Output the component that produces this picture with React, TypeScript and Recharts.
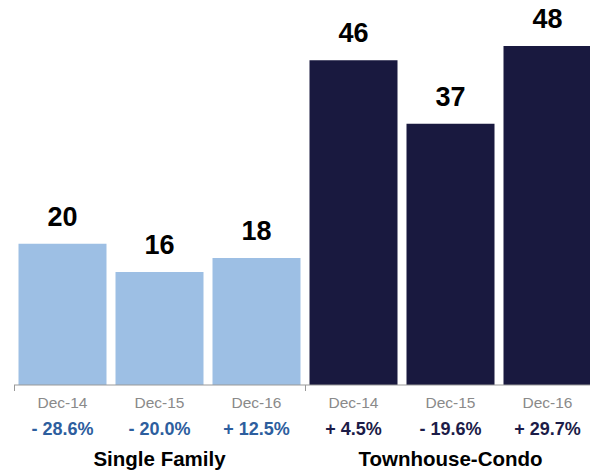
import React from 'react';
import { BarChart, Bar, XAxis, YAxis, Cell, LabelList } from 'recharts';

const categories = ['Dec-14', 'Dec-15', 'Dec-16', 'Dec-14', 'Dec-15', 'Dec-16'];
const singleFamilyValues = [20, 16, 18];
const townhouseValues = [46, 37, 48];
const pctLabels = ['- 28.6%', '- 20.0%', '+ 12.5%', '+ 4.5%', '- 19.6%', '+ 29.7%'];
const groupNames = ['Single Family', 'Townhouse-Condo'];

const values = [...singleFamilyValues, ...townhouseValues];
const data = categories.map((c, i) => ({
  key: `${c}-${i}`,
  label: c,
  value: values[i],
  pct: pctLabels[i],
  group: i < 3 ? 0 : 1,
}));

const FONT = '"Liberation Sans", Arial, Helvetica, sans-serif';
const barColors = ['#9dbfe4', '#19193f'];
const pctColors = ['#2d5e9e', '#1c1c48'];
const HALF = 48.5;

const CustomTick = (props: any) => {
  const { x, y, index } = props;
  const d = data[index];
  if (!d) return null;
  const lines: React.ReactNode[] = [];
  if (index === 0 || index === 3) {
    lines.push(<line key="l" x1={x - HALF + 0.5} x2={x - HALF + 0.5} y1={y} y2={y + 6} stroke="#999" strokeWidth={1} />);
  }
  return (
    <g>
      {lines}
      <text x={x} y={y + 23} textAnchor="middle" fontSize={15.5} fill="#8a8a8a" fontFamily={FONT}>
        {d.label}
      </text>
      <text x={x} y={y + 50} textAnchor="middle" fontSize={18} fontWeight="bold" fill={pctColors[d.group]} fontFamily={FONT}>
        {d.pct}
      </text>
      {(index === 1 || index === 4) && (
        <text x={x} y={y + 81} textAnchor="middle" fontSize={20.5} fontWeight="bold" fill="#000" fontFamily={FONT}>
          {groupNames[d.group]}
        </text>
      )}
    </g>
  );
};

export default function App() {
  return (
    <div style={{ position: 'absolute', left: 0, top: 0, width: 590, height: 474, background: '#fff', overflow: 'hidden' }}>
      <BarChart
        width={590}
        height={474}
        data={data}
        margin={{ top: 32, right: -6, left: 14, bottom: 0 }}
        barCategoryGap={4.5}
        style={{ overflow: 'visible' }}
      >
        <XAxis
          dataKey="key"
          height={89}
          interval={0}
          tickLine={false}
          tickSize={0}
          tickMargin={0}
          axisLine={{ stroke: '#999', strokeWidth: 1 }}
          tick={<CustomTick />}
        />
        <YAxis hide domain={[0, 50]} />
        <Bar dataKey="value" isAnimationActive={false}>
          {data.map((d) => (
            <Cell key={d.key} fill={barColors[d.group]} />
          ))}
          <LabelList
            dataKey="value"
            position="top"
            offset={18}
            style={{ fontSize: 27, fontWeight: 'bold', fill: '#000', fontFamily: FONT }}
          />
        </Bar>
      </BarChart>
    </div>
  );
}
